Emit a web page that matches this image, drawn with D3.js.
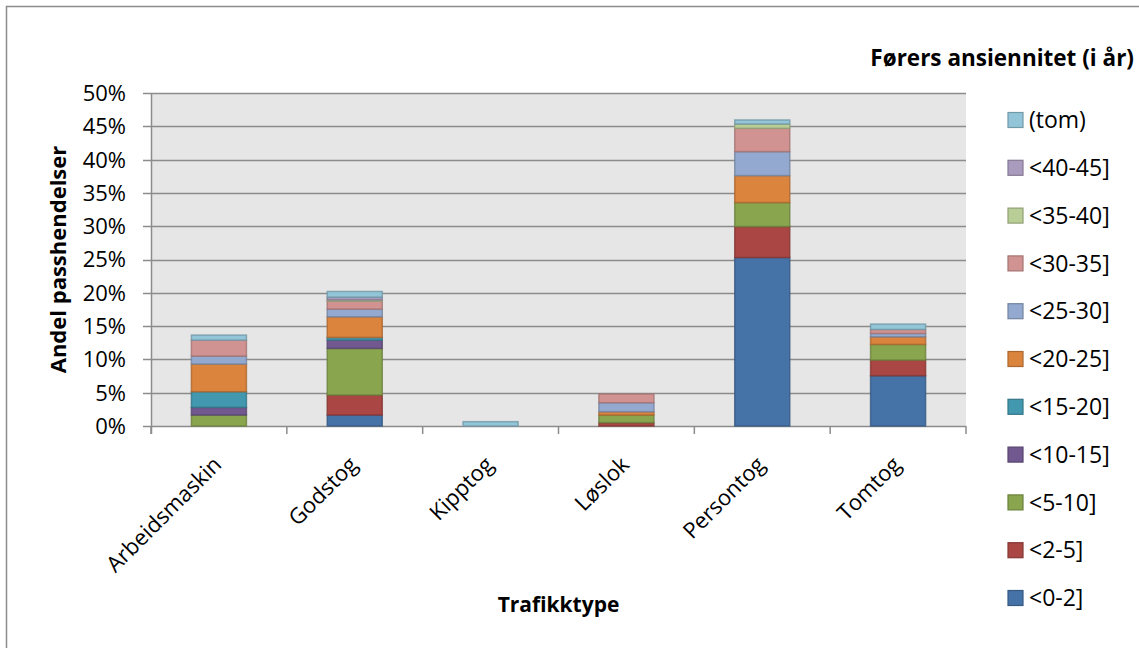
<!DOCTYPE html>
<html>
<head>
<meta charset="utf-8">
<script src="https://cdn.jsdelivr.net/npm/d3@7"></script>
<style>
body { margin: 0; background: #fff; }
svg text { font-family: "Open Sans", "Noto Sans", sans-serif; fill: #000; }
</style>
</head>
<body>
<svg id="chart" width="1139" height="648"></svg>
<script>
// trafikktyper
var categories = ["Arbeidsmaskin", "Godstog", "Kipptog", "Løslok", "Persontog", "Tomtog"]
// ansiennitet, bunn til topp
var seriesNames = ["<0-2]", "<2-5]", "<5-10]", "<10-15]", "<15-20]", "<20-25]", "<25-30]", "<30-35]", "<35-40]", "<40-45]", "(tom)"]
var seriesColors = ["#4572a7", "#aa4643", "#89a54e", "#71588f", "#4198af", "#db843d", "#93a9cf", "#d19392", "#b9cd96", "#a99bbd", "#92c5d8"]

// andel i prosent, en liste per serie (samme rekkefolge som categories)
var v0_2   = [0,    1.65, 0,    0,    25.3, 7.55]
var v2_5   = [0,    3.0,  0,    0.5,  4.65, 2.35]
var v5_10  = [1.65, 7.0,  0,    1.15, 3.6,  2.35]
var v10_15 = [1.15, 1.25, 0,    0,    0,    0]
var v15_20 = [2.35, 0.4,  0,    0,    0,    0]
var v20_25 = [4.15, 3.1,  0,    0.5,  4.05, 1.15]
var v25_30 = [1.2,  1.15, 0,    1.35, 3.6,  0.5]
var v30_35 = [2.4,  1.2,  0,    1.3,  3.5,  0.6]
var v35_40 = [0,    0.2,  0,    0,    0.65, 0]
var v40_45 = [0,    0.4,  0,    0,    0,    0]
var vTom   = [0.75, 0.85, 0.65, 0,    0.6,  0.8]
var seriesValues = [v0_2, v2_5, v5_10, v10_15, v15_20, v20_25, v25_30, v30_35, v35_40, v40_45, vTom]

var yTicks = [0, 5, 10, 15, 20, 25, 30, 35, 40, 45, 50]

var svg = d3.select("#chart")

// ytre ramme
svg.append("path")
	.attr("d", "M6.5,648 L6.5,6.5 L1139,6.5")
	.attr("fill", "none")
	.attr("stroke", "#8c8c8c")
	.attr("stroke-width", 1.5)

var plot = {left: 151, right: 966, top: 93, bottom: 426}

var x = d3.scaleBand()
	.domain(categories)
	.range([plot.left, plot.right])
	.paddingInner(0.595)
	.paddingOuter(0.2975)

var y = d3.scaleLinear()
	.domain([0, 50])
	.range([plot.bottom, plot.top])

// bakgrunn
svg.append("rect")
	.attr("x", plot.left)
	.attr("y", plot.top)
	.attr("width", plot.right - plot.left)
	.attr("height", plot.bottom - plot.top)
	.attr("fill", "#e6e6e6")

// rutenett
svg.append("g").selectAll("line")
	.data(yTicks)
	.join("line")
	.attr("x1", plot.left - 8)
	.attr("x2", plot.right)
	.attr("y1", function(d){ return Math.round(y(d)) + 0.5 })
	.attr("y2", function(d){ return Math.round(y(d)) + 0.5 })
	.attr("stroke", "#8c8c8c")
	.attr("stroke-width", 1.5)

// y-akse
svg.append("line")
	.attr("x1", plot.left + 0.5).attr("x2", plot.left + 0.5)
	.attr("y1", plot.top).attr("y2", plot.bottom + 8)
	.attr("stroke", "#8c8c8c")
	.attr("stroke-width", 1.5)

svg.append("g").selectAll("text")
	.data(yTicks)
	.join("text")
	.attr("x", 126)
	.attr("y", function(d){ return y(d) })
	.attr("dy", "0.36em")
	.attr("text-anchor", "end")
	.style("font-size", "22px")
	.text(function(d){ return d + "%" })

// x-akse tick mellom kategorier
var step = x.step()
svg.append("g").selectAll("line")
	.data(d3.range(categories.length + 1))
	.join("line")
	.attr("x1", function(i){ return plot.left + i * step })
	.attr("x2", function(i){ return plot.left + i * step })
	.attr("y1", plot.bottom)
	.attr("y2", plot.bottom + 8)
	.attr("stroke", "#8c8c8c")
	.attr("stroke-width", 1.5)

svg.append("g").selectAll("text")
	.data(categories)
	.join("text")
	.attr("transform", function(d){
		var cx = x(d) + x.bandwidth() / 2
		return "translate(" + (cx + 4) + "," + (plot.bottom + 40) + ") rotate(-45)"
	})
	.attr("text-anchor", "end")
	.style("font-size", "22px")
	.text(function(d){ return d })

// stablede søyler
var rows = categories.map(function(c, i){
	var r = {cat: c}
	seriesNames.forEach(function(s, j){ r[s] = seriesValues[j][i] })
	return r
})
var stacked = d3.stack().keys(seriesNames)(rows)

svg.append("g").selectAll("g")
	.data(stacked)
	.join("g")
	.attr("fill", function(d, i){ return seriesColors[i] })
	.attr("stroke", function(d, i){ return d3.color(seriesColors[i]).darker(0.7) })
	.attr("stroke-width", 1.5)
	.attr("stroke-opacity", 0.8)
	.selectAll("rect")
	.data(function(d){ return d.filter(function(p){ return p[1] - p[0] > 0 }) })
	.join("rect")
	.attr("x", function(p){ return x(p.data.cat) })
	.attr("width", x.bandwidth())
	.attr("y", function(p){ return y(p[1]) })
	.attr("height", function(p){ return y(p[0]) - y(p[1]) })

// aksetitler
svg.append("text")
	.attr("transform", "translate(66," + ((plot.top + plot.bottom) / 2) + ") rotate(-90)")
	.attr("text-anchor", "middle")
	.style("font-size", "22px")
	.style("font-weight", "bold")
	.text("Andel passhendelser")

svg.append("text")
	.attr("x", (plot.left + plot.right) / 2)
	.attr("y", 612)
	.attr("text-anchor", "middle")
	.style("font-size", "21px")
	.style("font-weight", "bold")
	.text("Trafikktype")

// legende
svg.append("text")
	.attr("x", 1134)
	.attr("y", 66)
	.attr("text-anchor", "end")
	.style("font-size", "22.5px")
	.style("font-weight", "bold")
	.text("Førers ansiennitet (i år)")

var legendOrder = d3.range(seriesNames.length).reverse()
var leg = svg.append("g").selectAll("g")
	.data(legendOrder)
	.join("g")
	.attr("transform", function(j, k){ return "translate(1008," + (120 + k * 47.8) + ")" })

leg.append("rect")
	.attr("x", 0).attr("y", -7.5)
	.attr("width", 15).attr("height", 15)
	.attr("fill", function(j){ return seriesColors[j] })
	.attr("stroke", function(j){ return d3.color(seriesColors[j]).darker(0.7) })
	.attr("stroke-width", 1.2)

leg.append("text")
	.attr("x", 21)
	.attr("y", 0)
	.attr("dy", "0.36em")
	.style("font-size", "23px")
	.text(function(j){ return seriesNames[j] })
</script>
</body>
</html>
